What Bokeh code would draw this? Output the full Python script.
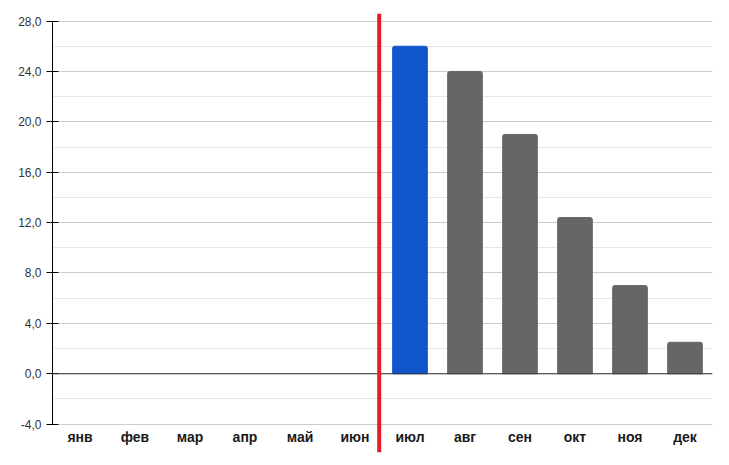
from bokeh.plotting import figure
from bokeh.models import FixedTicker, CustomJSTickFormatter, Span, ColumnDataSource, Range1d
from bokeh.core.properties import value
from bokeh.embed import file_html
from bokeh.resources import INLINE

months = ["янв", "фев", "мар", "апр", "май", "июн", "июл", "авг", "сен", "окт", "ноя", "дек"]
values = [None, None, None, None, None, None, 26.0, 24.0, 19.0, 12.4, 7.0, 2.5]
highlight_month = "июл"
divider_pos = 5.94
y_ticks = [-4, 0, 4, 8, 12, 16, 20, 24, 28]
y_minor = [-2, 2, 6, 10, 14, 18, 22, 26]

xs, tops, cols = [], [], []
for i, (m, v) in enumerate(zip(months, values)):
    if v is None:
        continue
    xs.append(i + 0.5)
    tops.append(v)
    cols.append("#1155cc" if m == highlight_month else "#666666")
src = ColumnDataSource(dict(x=xs, top=tops, color=cols))
lab = ColumnDataSource(dict(x=[i + 0.5 for i in range(len(months))], y=[y_ticks[0]] * len(months), text=months))

p = figure(frame_width=660, frame_height=439, output_backend="svg", toolbar_location=None,
           x_range=Range1d(0, 12), y_range=Range1d(-6.25, 28.6),
           min_border_left=52, min_border_right=9, min_border_top=13, min_border_bottom=5)
p.outline_line_color = None
p.background_fill_color = "white"
p.border_fill_color = "white"

p.xaxis.visible = False
p.xgrid.visible = False

ya = p.yaxis[0]
ya.ticker = FixedTicker(ticks=y_ticks, minor_ticks=y_minor)
ya.formatter = CustomJSTickFormatter(code="return tick.toFixed(1).replace('.', ',');")
ya.bounds = (y_ticks[0], y_ticks[-1])
ya.axis_line_color = "black"
ya.major_tick_line_color = "black"
ya.major_tick_in = 6
ya.major_tick_out = 6
ya.minor_tick_line_color = None
ya.major_label_text_font = "Liberation Sans"
ya.major_label_text_font_size = "12px"
ya.major_label_text_color = "#333333"
ya.major_label_standoff = 5

p.ygrid.ticker = ya.ticker
p.ygrid.grid_line_color = "#cccccc"
p.ygrid.minor_grid_line_color = "#e6e6e6"

p.vbar(x="x", top="top", bottom=0, width=0.63, color="color", source=src,
       border_radius=(2, 2, 0, 0))

p.add_layout(Span(location=0, dimension="width", line_color="#333333", line_width=1))
p.add_layout(Span(location=divider_pos, dimension="height", line_color="#e31e2a", line_width=4))

p.text(x="x", y="y", text="text", source=lab, y_offset=13, text_align="center",
       text_baseline="middle", text_font=value("Liberation Sans"), text_font_style="bold",
       text_font_size="14px", text_color="#1a1a1a")

open("out.html", "w").write(file_html(p, INLINE))
